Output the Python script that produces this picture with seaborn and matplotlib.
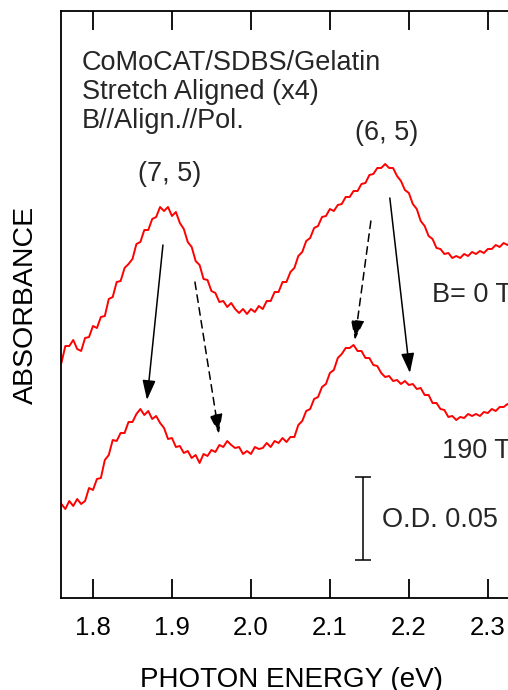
import matplotlib
matplotlib.use("Agg")
import matplotlib.pyplot as plt
import numpy as np
import pandas as pd
import seaborn as sns
from matplotlib.patches import FancyArrowPatch

# Photon energy grid (eV)
energy = [
    1.760, 1.765, 1.770, 1.775, 1.780, 1.785, 1.790, 1.795, 1.800, 1.805,
    1.810, 1.815, 1.820, 1.825, 1.830, 1.835, 1.840, 1.845, 1.850, 1.855,
    1.860, 1.865, 1.870, 1.875, 1.880, 1.885, 1.890, 1.895, 1.900, 1.905,
    1.910, 1.915, 1.920, 1.925, 1.930, 1.935, 1.940, 1.945, 1.950, 1.955,
    1.960, 1.965, 1.970, 1.975, 1.980, 1.985, 1.990, 1.995, 2.000, 2.005,
    2.010, 2.015, 2.020, 2.025, 2.030, 2.035, 2.040, 2.045, 2.050, 2.055,
    2.060, 2.065, 2.070, 2.075, 2.080, 2.085, 2.090, 2.095, 2.100, 2.105,
    2.110, 2.115, 2.120, 2.125, 2.130, 2.135, 2.140, 2.145, 2.150, 2.155,
    2.160, 2.165, 2.170, 2.175, 2.180, 2.185, 2.190, 2.195, 2.200, 2.205,
    2.210, 2.215, 2.220, 2.225, 2.230, 2.235, 2.240, 2.245, 2.250, 2.255,
    2.260, 2.265, 2.270, 2.275, 2.280, 2.285, 2.290, 2.295, 2.300, 2.305,
    2.310, 2.315, 2.320, 2.325, 2.330,
]

# Absorbance (mOD, curves vertically offset for display)
absorbance_0T = [
    141.0, 151.2, 151.2, 154.8, 149.4, 148.2, 156.0, 156.6, 163.2, 162.0,
    168.6, 169.2, 179.4, 180.6, 189.6, 190.2, 198.0, 200.4, 203.4, 212.4,
    213.6, 220.8, 220.8, 227.4, 228.6, 234.6, 232.2, 234.6, 229.2, 231.6,
    225.0, 221.4, 213.6, 210.6, 202.2, 199.8, 191.4, 190.8, 184.2, 183.0,
    177.6, 178.2, 174.6, 177.0, 173.4, 171.0, 173.4, 170.4, 173.4, 171.6,
    175.2, 173.4, 178.2, 178.2, 183.6, 183.6, 189.6, 189.6, 195.6, 198.0,
    205.2, 207.6, 214.2, 216.0, 222.0, 223.2, 228.6, 229.2, 233.4, 232.2,
    235.8, 236.4, 240.6, 240.6, 244.2, 244.2, 248.4, 249.0, 253.8, 254.4,
    258.0, 258.0, 260.4, 258.0, 258.0, 253.2, 250.2, 244.8, 243.0, 236.4,
    233.4, 226.2, 223.2, 217.2, 215.4, 210.0, 209.4, 206.4, 207.0, 204.0,
    205.2, 204.0, 206.4, 205.2, 207.6, 206.4, 208.2, 207.0, 209.4, 209.4,
    211.8, 210.6, 213.0, 211.8, 214.2,
]

absorbance_190T = [
    56.4, 53.4, 58.2, 55.2, 59.4, 56.4, 58.2, 66.0, 64.8, 71.4,
    72.0, 82.8, 85.8, 94.8, 94.2, 99.0, 99.0, 105.6, 105.6, 110.4,
    113.4, 109.8, 112.2, 107.4, 109.2, 105.0, 102.0, 95.4, 96.0, 90.6,
    91.2, 87.0, 88.2, 84.0, 85.8, 81.0, 86.4, 85.2, 88.8, 87.6,
    91.8, 90.6, 94.2, 91.8, 90.0, 90.6, 86.4, 88.2, 86.4, 90.6,
    89.4, 90.0, 93.0, 90.6, 94.2, 93.0, 96.0, 93.6, 96.6, 96.6,
    103.8, 106.2, 112.2, 113.4, 119.4, 120.6, 126.6, 128.4, 135.0, 136.8,
    144.0, 146.4, 150.0, 150.0, 151.8, 148.2, 148.2, 144.0, 144.0, 139.8,
    139.2, 135.0, 132.6, 133.2, 130.2, 130.8, 128.4, 130.2, 127.8, 128.4,
    125.4, 126.0, 121.8, 121.8, 117.0, 117.0, 113.4, 112.8, 108.6, 109.2,
    106.8, 108.6, 108.0, 110.4, 109.2, 110.4, 109.2, 111.6, 111.0, 113.4,
    112.2, 114.6, 114.6, 116.4, 115.2,
]

field_labels = ["B= 0 T", "190 T"]
xtick_values = [1.8, 1.9, 2.0, 2.1, 2.2, 2.3]
xtick_labels = ["1.8", "1.9", "2.0", "2.1", "2.2", "2.3"]

n = len(energy)
df = pd.DataFrame({
    "energy": energy * 2,
    "absorbance": absorbance_0T + absorbance_190T,
    "field": [field_labels[0]] * n + [field_labels[1]] * n,
})

sns.set_theme(style="ticks")
plt.rcParams["font.family"] = ["Liberation Sans", "DejaVu Sans"]

TEXT_SIZE = 19.5

fig = plt.figure(figsize=(5.08, 6.90), dpi=100)
ax = fig.add_axes([61 / 508, 92 / 690, 460 / 508, 587 / 690])

sns.lineplot(data=df, x="energy", y="absorbance", hue="field",
             palette={field_labels[0]: "#ff0000", field_labels[1]: "#ff0000"},
             estimator=None, sort=False, linewidth=1.4, legend=False, ax=ax)

ax.set_xlim(1.7595, 2.342)
ax.set_ylim(0, 352.2)
ax.set_xticks(xtick_values)
ax.set_xticklabels(xtick_labels)
ax.set_yticks([])
ax.tick_params(axis="x", direction="in", length=13.5, width=1.3, top=True,
               labelsize=18.5, pad=13, colors="black")
for side in ["left", "right", "top", "bottom"]:
    ax.spines[side].set_visible(True)
    ax.spines[side].set_linewidth(1.3)
    ax.spines[side].set_color("black")

ax.set_xlabel("PHOTON ENERGY (eV)", fontsize=20, labelpad=19.5, color="black")
ax.set_ylabel("ABSORBANCE", fontsize=20.5, labelpad=16, color="black")

# Sample description
for y, line in zip([316.8, 299.4, 282.0],
                   ["CoMoCAT/SDBS/Gelatin", "Stretch Aligned (x4)", "B//Align.//Pol."]):
    ax.text(1.7861, y, line, fontsize=TEXT_SIZE, va="baseline", ha="left")

ax.text(1.8975, 250.2, "(7, 5)", fontsize=TEXT_SIZE, va="baseline", ha="center")
ax.text(2.1722, 274.8, "(6, 5)", fontsize=TEXT_SIZE, va="baseline", ha="center")
ax.text(2.2291, 177.6, field_labels[0], fontsize=TEXT_SIZE, va="baseline", ha="left")
ax.text(2.2418, 84.0, field_labels[1], fontsize=TEXT_SIZE, va="baseline", ha="left")
ax.text(2.1658, 42.6, "O.D. 0.05", fontsize=TEXT_SIZE, va="baseline", ha="left")

# Scale bar: 0.05 OD = 50 mOD
ax.errorbar([2.1418], [47.8], yerr=[25.0], color="black", elinewidth=1.1,
            capsize=6, capthick=1.1, fmt="none")

# Peak-shift arrows (solid and dashed)
arrows = [
    ((1.8886, 211.8), (1.8684, 118.8), "-"),
    ((1.9291, 189.6), (1.9595, 98.4), (0, (5, 3.5))),
    ((2.1519, 226.2), (2.1316, 154.8), (0, (5, 3.5))),
    ((2.1759, 240.0), (2.2013, 135.0), "-"),
]
for start, end, ls in arrows:
    arr = FancyArrowPatch(start, end, arrowstyle="-|>,head_length=12,head_width=4",
                          mutation_scale=1, linewidth=1.1, linestyle=ls,
                          color="black", shrinkA=0, shrinkB=0)
    ax.add_patch(arr)

fig.savefig("out.png", dpi=100)
